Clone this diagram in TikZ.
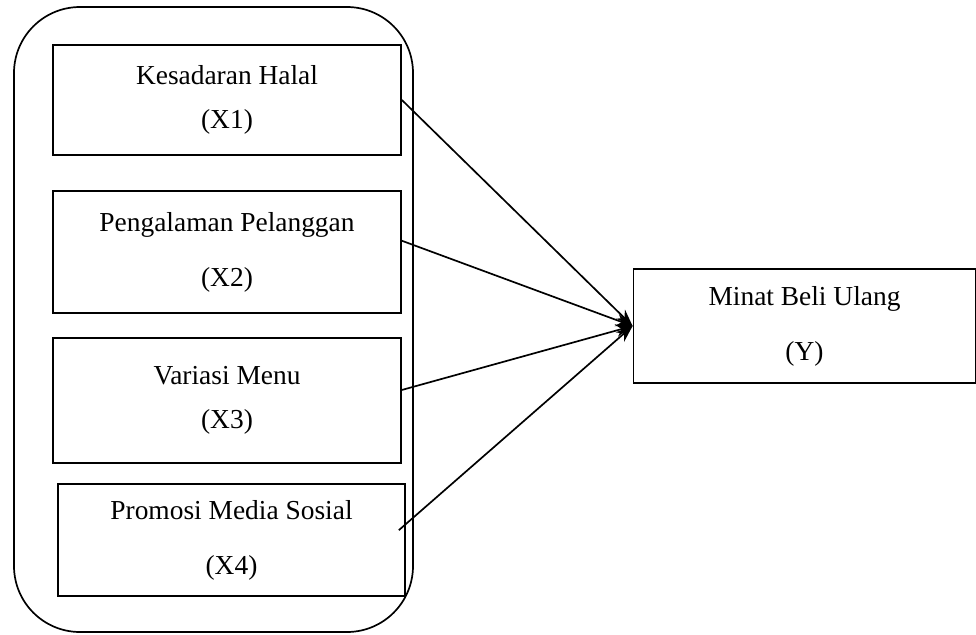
\documentclass[tikz,border=0pt]{standalone}
\usepackage{fontspec}
\setmainfont{Liberation Serif}
\usepackage{tikz}
\usetikzlibrary{arrows.meta, positioning}
\tikzstyle{var} = [rectangle, draw, line width=1.2pt, align=center, font=\fontsize{19.5}{39}\selectfont]
\tikzstyle{arrow} = [-{Stealth[length=12pt, width=9pt]}, line width=1.2pt]

\begin{document}
\begin{tikzpicture}[x=0.025cm, y=-0.025cm]
                \useasboundingbox (0,0) rectangle (976,634);
                % group of independent variables
                \draw[line width=1.2pt, rounded corners=1.65cm] (14,7) rectangle (413,632);
                \node (x1) at (227,100) [var, minimum width=8.7cm, minimum height=2.75cm] {Kesadaran Halal\\[-8pt](X1)};
                \node (x2) at (227,252) [var, minimum width=8.7cm, minimum height=3.05cm] {Pengalaman Pelanggan\\(X2)};
                \node (x3) at (227,400.5) [var, minimum width=8.7cm, minimum height=3.125cm] {Variasi Menu\\[-8pt](X3)};
                \node (x4) at (231.5,540) [var, minimum width=8.675cm, minimum height=2.8cm] {Promosi Media Sosial\\(X4)};
                \node (y) at (804.5,326) [var, minimum width=8.55cm, minimum height=2.85cm] {Minat Beli Ulang\\(Y)};
                \draw[arrow] (x1.east) -- (y.west);
                \draw[arrow] ([yshift=8pt]x2.east) -- (y.west);
                \draw[arrow] ([yshift=7.5pt]x3.east) -- (y.west);
                \draw[arrow] ([xshift=-5pt, yshift=7pt]x4.east) -- (y.west);
            \end{tikzpicture}
\end{document}
